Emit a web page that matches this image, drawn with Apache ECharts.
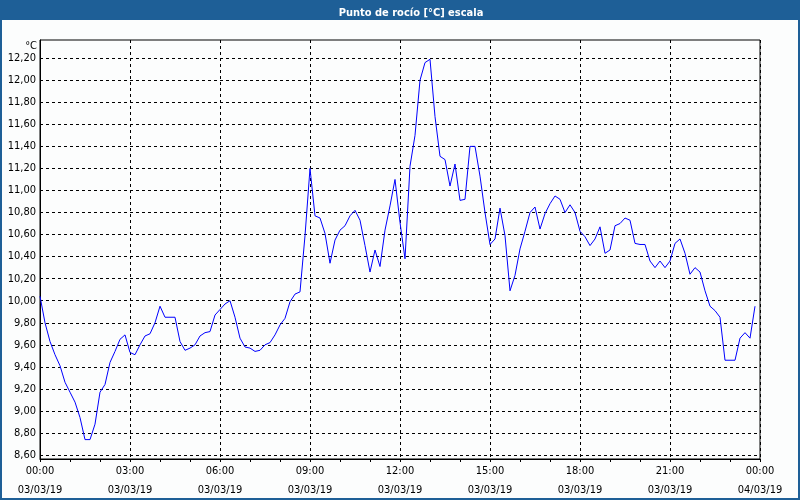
<!DOCTYPE html>
<html>
<head>
<meta charset="utf-8">
<script src="https://cdn.jsdelivr.net/npm/echarts@6/dist/echarts.min.js"></script>
<style>
html,body{margin:0;padding:0;background:#fcfdfd;}
#chart{width:800px;height:500px;}
</style>
</head>
<body>
<div id="chart"></div>
<script>
// Dew point readings every 10 minutes, 03/03/19 00:00 .. 23:50
const stepHours = 1 / 6;
const dewPoint = [
  10.04, 9.80, 9.63, 9.51, 9.41, 9.26, 9.17, 9.08, 8.94, 8.74,
  8.74, 8.88, 9.17, 9.24, 9.44, 9.54, 9.65, 9.69, 9.53, 9.51,
  9.60, 9.68, 9.70, 9.80, 9.95, 9.85, 9.85, 9.85, 9.63, 9.55,
  9.57, 9.60, 9.68, 9.71, 9.72, 9.87, 9.92, 9.97, 10.00, 9.85,
  9.66, 9.58, 9.57, 9.54, 9.55, 9.60, 9.62, 9.69, 9.78, 9.84,
  9.99, 10.06, 10.08, 10.59, 11.20, 10.77, 10.75, 10.61, 10.34, 10.55,
  10.64, 10.68, 10.77, 10.82, 10.73, 10.50, 10.26, 10.46, 10.31, 10.64,
  10.86, 11.10, 10.71, 10.38, 11.22, 11.50, 12.00, 12.16, 12.19, 11.67,
  11.31, 11.28, 11.04, 11.24, 10.91, 10.92, 11.40, 11.40, 11.13, 10.80,
  10.51, 10.56, 10.84, 10.59, 10.09, 10.23, 10.47, 10.63, 10.80, 10.85,
  10.65, 10.79, 10.88, 10.95, 10.92, 10.80, 10.87, 10.80, 10.63, 10.58,
  10.50, 10.56, 10.67, 10.43, 10.46, 10.68, 10.70, 10.75, 10.73, 10.52,
  10.51, 10.51, 10.36, 10.30, 10.36, 10.30, 10.36, 10.52, 10.56, 10.43,
  10.24, 10.30, 10.26, 10.09, 9.95, 9.91, 9.85, 9.46, 9.46, 9.46,
  9.66, 9.71, 9.66, 9.95
];
const xTickLabels = [
  '00:00\n03/03/19', '03:00\n03/03/19', '06:00\n03/03/19', '09:00\n03/03/19',
  '12:00\n03/03/19', '15:00\n03/03/19', '18:00\n03/03/19', '21:00\n03/03/19',
  '00:00\n04/03/19'
];
const yTicks = [8.6, 8.8, 9.0, 9.2, 9.4, 9.6, 9.8, 10.0, 10.2, 10.4, 10.6, 10.8,
  11.0, 11.2, 11.4, 11.6, 11.8, 12.0, 12.2];
const titleText = 'Punto de rocío [°C] escala';
const unitText = '°C';

const FONT = "'DejaVu Sans Condensed', 'Liberation Sans', sans-serif";
const seriesData = dewPoint.map((v, i) => [i * stepHours, v]);

const chart = echarts.init(document.getElementById('chart'), null, {renderer: 'canvas'});
chart.setOption({
  backgroundColor: '#fcfdfd',
  animation: false,
  title: {
    text: titleText,
    left: 406,
    textAlign: 'center',
    top: 3,
    textStyle: {color: '#ffffff', fontWeight: 'bold', fontSize: 11, fontFamily: FONT}
  },
  graphic: [
    {type: 'rect', z: -1, shape: {x: 0, y: 0, width: 800, height: 20}, style: {fill: '#1e5f97'}},
    {type: 'rect', z: 100, shape: {x: 1, y: 1, width: 798, height: 498}, style: {fill: 'none', stroke: '#1e5f97', lineWidth: 2}},
    {type: 'text', x: 37, y: 46, style: {text: unitText, fill: '#000', fontSize: 11, fontFamily: FONT, textAlign: 'right', textVerticalAlign: 'middle'}}
  ],
  grid: {left: 40, right: 40, top: 40, bottom: 39, show: true, borderColor: '#000', borderWidth: 1, backgroundColor: 'transparent'},
  xAxis: {
    type: 'value', min: 0, max: 24, interval: 3,
    axisLine: {show: true, lineStyle: {color: '#000', width: 1}},
    axisTick: {show: true, length: 3, lineStyle: {color: '#000'}},
    minorTick: {show: true, splitNumber: 3, length: 3, lineStyle: {color: '#000'}},
    axisLabel: {
      color: '#000', fontSize: 11, fontFamily: FONT, lineHeight: 19, margin: 3,
      showMinLabel: true, showMaxLabel: true,
      formatter: v => xTickLabels[Math.round(v / 3)]
    },
    splitLine: {show: true, lineStyle: {color: '#000', type: [3, 3], width: 1}}
  },
  yAxis: {
    type: 'value', min: 8.564, max: 12.365,
    axisLine: {show: true, lineStyle: {color: '#000', width: 1}},
    axisTick: {show: false, customValues: yTicks},
    axisLabel: {
      customValues: yTicks, color: '#000', fontSize: 11, fontFamily: FONT, margin: 4,
      formatter: v => v.toFixed(2).replace('.', ',')
    },
    splitLine: {show: true, lineStyle: {color: '#000', type: [3, 3], width: 1}}
  },
  series: [{
    type: 'line', data: seriesData, showSymbol: false, smooth: false,
    lineStyle: {color: '#0000ff', width: 1}, itemStyle: {color: '#0000ff'}
  }]
});
</script>
</body>
</html>
